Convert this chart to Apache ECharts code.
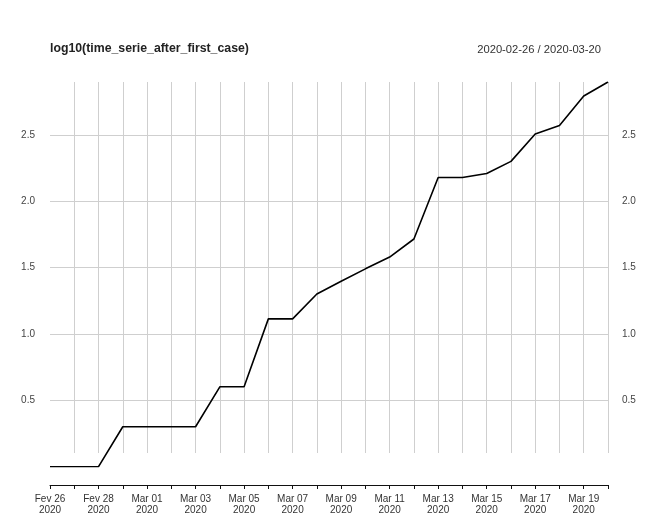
<!DOCTYPE html>
<html>
<head>
<meta charset="utf-8">
<script src="https://cdn.jsdelivr.net/npm/echarts@6/dist/echarts.min.js"></script>
<style>html,body{margin:0;padding:0;background:#fff}#c{width:658px;height:521px}</style>
</head>
<body>
<div id="c"></div>
<script>
// Day labels (Portuguese month abbreviations as in the original)
var categories = ['Fev 26','Fev 27','Fev 28','Fev 29','Mar 01','Mar 02','Mar 03','Mar 04',
  'Mar 05','Mar 06','Mar 07','Mar 08','Mar 09','Mar 10','Mar 11','Mar 12','Mar 13','Mar 14',
  'Mar 15','Mar 16','Mar 17','Mar 18','Mar 19','Mar 20'];
var year = '2020';
// log10 of cumulative cases after first case
var values = [0, 0, 0, 0.301, 0.301, 0.301, 0.301, 0.602, 0.602, 1.114, 1.114, 1.301,
  1.398, 1.491, 1.580, 1.716, 2.179, 2.179, 2.210, 2.301, 2.507, 2.571, 2.793, 2.899];
var yTicks = [0.5, 1.0, 1.5, 2.0, 2.5];
var titleLeft = 'log10(time_serie_after_first_case)';
var titleRight = '2020-02-26 / 2020-03-20';

var FONT = 'Liberation Sans, Arial, Helvetica, sans-serif';
var chart = echarts.init(document.getElementById('c'), null, {renderer: 'canvas'});
var yMax = Math.max.apply(null, values);
var labelFmt = function (v) { return yTicks.indexOf(v) >= 0 ? v.toFixed(1) : ''; };

chart.setOption({
  animation: false,
  backgroundColor: '#ffffff',
  title: [
    {text: titleLeft, left: 50, top: 43, padding: 0,
     textStyle: {fontFamily: FONT, fontSize: 12.3, fontWeight: 'bold', color: '#222'}},
    {text: titleRight, right: 57, top: 44, padding: 0,
     textStyle: {fontFamily: FONT, fontSize: 11.2, fontWeight: 'normal', color: '#333'}}
  ],
  grid: [
    {left: 50, right: 50, top: 82, bottom: 54.3},
    {left: 50, right: 50, top: 82, bottom: 68}
  ],
  xAxis: [
    {type: 'category', gridIndex: 0, data: categories, boundaryGap: false, offset: 18.3,
     axisLine: {onZero: false, lineStyle: {color: '#111', width: 1}},
     axisTick: {show: true, interval: 0, length: 4, lineStyle: {color: '#111'}},
     axisLabel: {interval: 1, margin: 9, fontFamily: FONT, fontSize: 10, color: '#333',
       lineHeight: 11, formatter: function (v) { return v + '\n' + year; }},
     splitLine: {show: false}},
    {type: 'category', gridIndex: 1, data: categories, boundaryGap: false,
     axisLine: {show: false}, axisTick: {show: false}, axisLabel: {show: false},
     splitLine: {show: true, interval: function (i) { return i > 0; },
       lineStyle: {color: '#cfcfcf', width: 1}}}
  ],
  yAxis: [
    {type: 'value', gridIndex: 0, min: 0, max: yMax, interval: 0.5, position: 'left',
     axisLine: {show: false}, axisTick: {show: false},
     axisLabel: {margin: 15, fontFamily: FONT, fontSize: 10, color: '#444',
       showMinLabel: false, showMaxLabel: false, formatter: labelFmt},
     splitLine: {show: true, showMinLine: false, showMaxLine: false,
       lineStyle: {color: '#cfcfcf', width: 1}}},
    {type: 'value', gridIndex: 0, min: 0, max: yMax, interval: 0.5, position: 'right',
     axisLine: {show: false}, axisTick: {show: false},
     axisLabel: {margin: 14, fontFamily: FONT, fontSize: 10, color: '#444',
       showMinLabel: false, showMaxLabel: false, formatter: labelFmt},
     splitLine: {show: false}},
    {type: 'value', gridIndex: 1, min: 0, max: 1, show: false}
  ],
  series: [
    {type: 'line', xAxisIndex: 0, yAxisIndex: 0, data: values, symbol: 'none',
     lineStyle: {color: '#000', width: 1.6}, z: 5}
  ]
});
</script>
</body>
</html>
